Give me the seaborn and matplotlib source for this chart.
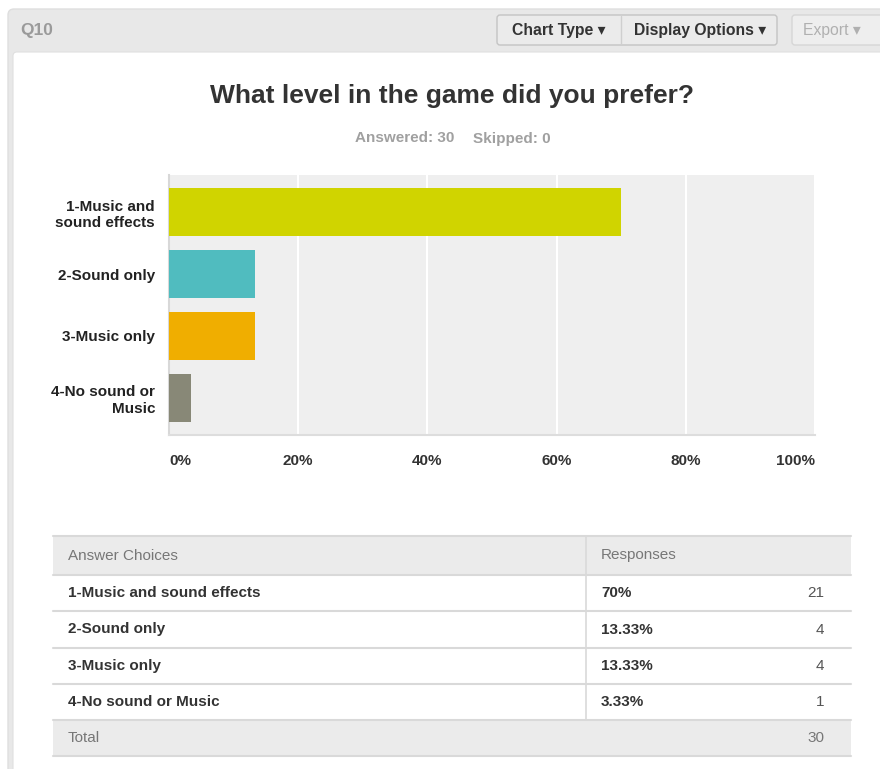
import matplotlib
matplotlib.use("Agg")
import matplotlib.pyplot as plt
from matplotlib.patches import Rectangle, FancyBboxPatch
import seaborn as sns
import pandas as pd

# ---- data ----
categories = ["1-Music and\nsound effects", "2-Sound only", "3-Music only", "4-No sound or\nMusic"]
table_choices = ["1-Music and sound effects", "2-Sound only", "3-Music only", "4-No sound or Music"]
percents = [70.0, 13.33, 13.33, 3.33]
pct_labels = ["70%", "13.33%", "13.33%", "3.33%"]
counts = [21, 4, 4, 1]
total = 30
answered = 30
skipped = 0
bar_colors = ["#d0d400", "#50bcbf", "#f0ae00", "#888877"]
xticks = [0, 20, 40, 60, 80, 100]
xtick_labels = ["0%", "20%", "40%", "60%", "80%", "100%"]
title = "What level in the game did you prefer?"
question_id = "Q10"

sns.set_theme(style="white")
plt.rcParams["font.family"] = ["Liberation Sans", "DejaVu Sans"]

W, H = 880, 769
fig = plt.figure(figsize=(W / 100, H / 100), dpi=100)
fig.patch.set_facecolor("white")

# background axes in pixel coordinates
bg = fig.add_axes([0, 0, 1, 1])
bg.set_xlim(0, W)
bg.set_ylim(H, 0)
bg.axis("off")

# outer grey frame and white panel
bg.add_patch(FancyBboxPatch((8, 9), 900, 800, boxstyle="round,pad=0,rounding_size=6",
                            facecolor="#e8e8e8", edgecolor="#dedede", lw=1))
bg.add_patch(FancyBboxPatch((13, 52), 900, 800, boxstyle="round,pad=0,rounding_size=4",
                            facecolor="white", edgecolor="#e0e0e0", lw=0.8))
bg.text(20, 30, question_id, fontsize=12.5, fontweight="bold", color="#9a9a9a", va="center", ha="left")

FAM = ["Liberation Sans", "DejaVu Sans"]

# header buttons
bg.add_patch(FancyBboxPatch((497, 15), 280, 30, boxstyle="round,pad=0,rounding_size=3",
                            facecolor="#ebebeb", edgecolor="#c4c4c4", lw=1))
bg.plot([621, 621], [16, 44], color="#cfcfcf", lw=1)
bg.text(559, 30.5, "Chart Type \u25BE", fontsize=11.3, color="#333333", ha="center", va="center",
        fontweight="bold", family=FAM)
bg.text(700, 30.5, "Display Options \u25BE", fontsize=11.3, color="#333333", ha="center", va="center",
        fontweight="bold", family=FAM)
bg.add_patch(FancyBboxPatch((792, 15), 120, 30, boxstyle="round,pad=0,rounding_size=3",
                            facecolor="#eeeeee", edgecolor="#d6d6d6", lw=1))
bg.text(832, 30.5, "Export \u25BE", fontsize=11.3, color="#b0b0b0", ha="center", va="center",
        family=FAM)

# title and subtitle
bg.text(452, 96, title, fontsize=19, fontweight="bold", color="#333333", ha="center", va="center")
bg.text(405, 138.5, f"Answered: {answered}", fontsize=11, fontweight="bold", color="#a0a0a0",
        ha="center", va="center")
bg.text(512, 138.5, f"Skipped: {skipped}", fontsize=11, fontweight="bold", color="#a0a0a0",
        ha="center", va="center")

# ---- bar chart ----
ax = fig.add_axes([169 / W, 1 - 435 / H, (815 - 169) / W, (435 - 175) / H])
df = pd.DataFrame({"choice": categories, "pct": percents})
sns.barplot(data=df, x="pct", y="choice", hue="choice", palette=bar_colors, legend=False,
            orient="h", width=0.77, ax=ax, saturation=1, zorder=3, linewidth=0)
ax.set_facecolor("#efefef")
ax.set_xlim(0, 100)
ax.set_ylim(3.6, -0.6)
ax.set_xticks(xticks)
ax.set_xticklabels(xtick_labels)
for lbl, ha in zip(ax.get_xticklabels(), ["left", "center", "center", "center", "center", "right"]):
    lbl.set_ha(ha)
ax.grid(axis="x", color="white", lw=1.5, zorder=1)
ax.set_axisbelow(True)
ax.tick_params(axis="x", length=0, pad=14, labelsize=11, labelcolor="#333333")
ax.tick_params(axis="y", length=0, pad=10, labelsize=11, labelcolor="#222222")
for lbl in ax.get_xticklabels() + ax.get_yticklabels():
    lbl.set_fontweight("bold")
for lbl in ax.get_yticklabels():
    lbl.set_multialignment("right")
    lbl.set_linespacing(1.25)
ax.set_xlabel("")
ax.set_ylabel("")
for s in ["top", "right"]:
    ax.spines[s].set_visible(False)
ax.spines["left"].set_color("#d8d8d8")
ax.spines["left"].set_linewidth(1.5)
ax.spines["bottom"].set_color("#dddddd")
ax.spines["bottom"].set_linewidth(1.5)

# ---- table ----
tx0, tx1, tcol = 53, 851, 586
row_edges = [536, 575, 611, 648, 684, 720, 756]
bg.add_patch(Rectangle((tx0, row_edges[0]), tx1 - tx0, row_edges[1] - row_edges[0],
                       facecolor="#ebebeb", edgecolor="none"))
bg.add_patch(Rectangle((tx0, row_edges[5]), tx1 - tx0, row_edges[6] - row_edges[5],
                       facecolor="#ebebeb", edgecolor="none"))
for y in row_edges:
    bg.plot([tx0, tx1], [y, y], color="#d9d9d9", lw=1.5)
bg.plot([tcol, tcol], [row_edges[0], row_edges[5]], color="#d9d9d9", lw=1.2)

def mid(i):
    return (row_edges[i] + row_edges[i + 1]) / 2

TS = 11
bg.text(68, mid(0), "Answer Choices", fontsize=TS, color="#777777", va="center", ha="left")
bg.text(601, mid(0), "Responses", fontsize=TS, color="#777777", va="center", ha="left")
for i, (ch, pl, c) in enumerate(zip(table_choices, pct_labels, counts)):
    y = mid(i + 1)
    bg.text(68, y, ch, fontsize=TS, fontweight="bold", color="#333333", va="center", ha="left")
    bg.text(601, y, pl, fontsize=TS, fontweight="bold", color="#333333", va="center", ha="left")
    bg.text(824, y, str(c), fontsize=TS, color="#555555", va="center", ha="right")
bg.text(68, mid(5), "Total", fontsize=TS, color="#777777", va="center", ha="left")
bg.text(824, mid(5), str(total), fontsize=TS, color="#777777", va="center", ha="right")

fig.savefig("out.png", dpi=100, facecolor=fig.get_facecolor())
